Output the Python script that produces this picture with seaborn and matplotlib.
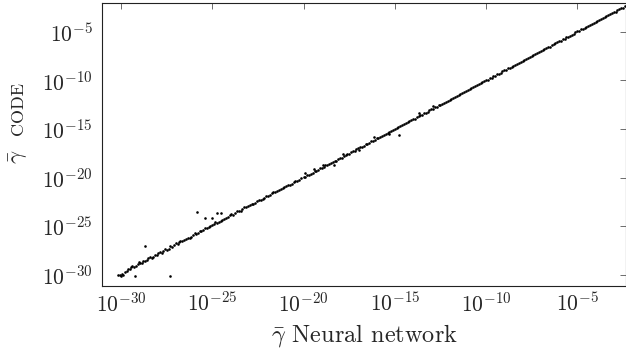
import numpy as np
import matplotlib
matplotlib.use("Agg")
import matplotlib.pyplot as plt
from matplotlib.ticker import NullLocator, LogFormatterSciNotation
import seaborn as sns

# log10 of gamma-bar: neural network (x) vs CODE (y)
nn_log = [
    # bottom-left, sparse part
    -30.15, -30.08, -30.02, -29.95, -29.88, -29.80, -29.60, -29.45, -29.30, -29.10,
    -28.95, -28.80, -28.60, -28.40, -28.25, -28.05, -27.85, -27.70, -27.50, -27.30,
    -27.10, -26.90, -26.75, -26.55, -26.35, -26.15, -25.95, -25.80, -25.60, -25.40,
    -25.20, -25.00, -24.85, -24.65, -24.45, -24.25, -24.05, -23.85, -23.65, -23.45,
    -23.25, -23.05, -22.85, -22.65, -22.45, -22.25, -22.05, -21.85, -21.65, -21.45,
    -21.25, -21.05, -20.85, -20.65, -20.45, -20.25,
    -29.70, -29.52, -29.38, -29.20, -29.02, -28.88, -28.70, -28.50, -28.32, -28.15,
    -27.95, -27.78, -27.60, -27.40, -27.20, -27.00, -26.82, -26.65, -26.45, -26.25,
    -26.05, -25.88, -25.70, -25.50, -25.30, -25.10, -24.92, -24.75, -24.55, -24.35,
    -24.15, -23.95, -23.75, -23.55, -23.35, -23.15, -22.95, -22.75, -22.55, -22.35,
    -22.15, -21.95, -21.75, -21.55, -21.35, -21.15, -20.95, -20.75, -20.55, -20.35,
    -20.15,
    # dense part
    -20.00, -19.90, -19.80, -19.70, -19.60, -19.50, -19.40, -19.30, -19.20, -19.10,
    -19.00, -18.90, -18.80, -18.70, -18.60, -18.50, -18.40, -18.30, -18.20, -18.10,
    -18.00, -17.90, -17.80, -17.70, -17.60, -17.50, -17.40, -17.30, -17.20, -17.10,
    -17.00, -16.90, -16.80, -16.70, -16.60, -16.50, -16.40, -16.30, -16.20, -16.10,
    -16.00, -15.90, -15.80, -15.70, -15.60, -15.50, -15.40, -15.30, -15.20, -15.10,
    -15.00, -14.90, -14.80, -14.70, -14.60, -14.50, -14.40, -14.30, -14.20, -14.10,
    -14.00, -13.90, -13.80, -13.70, -13.60, -13.50, -13.40, -13.30, -13.20, -13.10,
    -13.00, -12.90, -12.80, -12.70, -12.60, -12.50, -12.40, -12.30, -12.20, -12.10,
    -12.00, -11.90, -11.80, -11.70, -11.60, -11.50, -11.40, -11.30, -11.20, -11.10,
    -11.00, -10.90, -10.80, -10.70, -10.60, -10.50, -10.40, -10.30, -10.20, -10.10,
    -10.00, -9.90, -9.80, -9.70, -9.60, -9.50, -9.40, -9.30, -9.20, -9.10,
    -9.00, -8.90, -8.80, -8.70, -8.60, -8.50, -8.40, -8.30, -8.20, -8.10,
    -8.00, -7.90, -7.80, -7.70, -7.60, -7.50, -7.40, -7.30, -7.20, -7.10,
    -7.00, -6.90, -6.80, -6.70, -6.60, -6.50, -6.40, -6.30, -6.20, -6.10,
    -6.00, -5.90, -5.80, -5.70, -5.60, -5.50, -5.40, -5.30, -5.20, -5.10,
    -5.00, -4.90, -4.80, -4.70, -4.60, -4.50, -4.40, -4.30, -4.20, -4.10,
    -4.00, -3.90, -3.80, -3.70, -3.60, -3.50, -3.40, -3.30, -3.20, -3.10,
    -3.00, -2.90, -2.80, -2.70, -2.60, -2.50, -2.40, -2.30,
    # stray points
    -28.68, -27.31, -29.23, -25.40, -25.00, -24.75, -24.50, -25.85,
    -19.45, -18.35, -17.85, -16.95, -16.15, -15.30, -14.79, -13.65, -12.90, -19.90, -18.95,
]
code_log = [
    -30.05, -29.98, -30.10, -29.92, -30.02, -29.70, -29.35, -29.20, -29.15, -28.85,
    -28.80, -28.55, -28.50, -28.20, -28.10, -27.90, -27.60, -27.55, -27.40, -27.05,
    -26.95, -26.80, -26.50, -26.45, -26.15, -26.05, -25.70, -25.65, -25.50, -25.20,
    -25.10, -24.85, -24.60, -24.55, -24.30, -24.15, -23.85, -23.80, -23.45, -23.40,
    -23.05, -22.95, -22.70, -22.55, -22.30, -22.20, -21.90, -21.80, -21.50, -21.40,
    -21.15, -21.00, -20.75, -20.60, -20.35, -20.22,
    -29.55, -29.40, -29.10, -29.05, -28.70, -28.72, -28.60, -28.30, -28.25, -27.95,
    -27.75, -27.70, -27.35, -27.30, -27.10, -26.75, -26.65, -26.55, -26.30, -26.20,
    -25.85, -25.80, -25.50, -25.40, -25.15, -24.95, -24.80, -24.65, -24.40, -24.25,
    -24.05, -23.75, -23.65, -23.45, -23.20, -23.05, -22.80, -22.70, -22.40, -22.30,
    -22.05, -21.85, -21.60, -21.50, -21.25, -21.10, -20.85, -20.70, -20.45, -20.30,
    -20.05,
    -19.97, -19.94, -19.74, -19.72, -19.59, -19.56, -19.36, -19.30, -19.23, -19.05,
    -18.98, -18.95, -18.73, -18.71, -18.57, -18.54, -18.40, -18.25, -18.26, -18.08,
    -17.97, -17.94, -17.76, -17.68, -17.61, -17.55, -17.36, -17.30, -17.22, -17.06,
    -16.98, -16.86, -16.81, -16.72, -16.57, -16.54, -16.41, -16.27, -16.23, -16.08,
    -15.96, -15.93, -15.77, -15.71, -15.58, -15.55, -15.37, -15.31, -15.21, -15.06,
    -14.97, -14.94, -14.75, -14.72, -14.60, -14.53, -14.38, -14.31, -14.22, -14.07,
    -13.96, -13.93, -13.77, -13.71, -13.59, -13.54, -13.37, -13.32, -13.21, -13.08,
    -12.97, -12.93, -12.78, -12.70, -12.58, -12.54, -12.38, -12.31, -12.21, -12.07,
    -11.98, -11.92, -11.77, -11.71, -11.59, -11.53, -11.39, -11.30, -11.22, -11.08,
    -10.97, -10.93, -10.78, -10.70, -10.60, -10.52, -10.38, -10.31, -10.21, -10.07,
    -9.98, -9.92, -9.78, -9.71, -9.59, -9.53, -9.39, -9.31, -9.22, -9.08,
    -8.97, -8.93, -8.77, -8.70, -8.60, -8.52, -8.38, -8.31, -8.21, -8.07,
    -7.98, -7.92, -7.78, -7.71, -7.59, -7.53, -7.39, -7.30, -7.22, -7.08,
    -6.97, -6.93, -6.77, -6.70, -6.60, -6.52, -6.38, -6.31, -6.21, -6.07,
    -5.98, -5.92, -5.78, -5.71, -5.59, -5.53, -5.39, -5.30, -5.22, -5.08,
    -4.97, -4.93, -4.77, -4.70, -4.60, -4.52, -4.38, -4.31, -4.21, -4.07,
    -3.98, -3.92, -3.78, -3.71, -3.59, -3.53, -3.39, -3.30, -3.22, -3.08,
    -2.97, -2.93, -2.77, -2.70, -2.60, -2.52, -2.38, -2.31,
    -27.02, -30.10, -30.10, -24.17, -24.11, -23.66, -23.66, -23.55,
    -19.15, -18.65, -17.55, -17.20, -15.85, -15.55, -15.66, -13.40, -12.65, -19.55, -18.70,
]

tick_exp = [-30, -25, -20, -15, -10, -5]

sns.set_theme(style="white")
plt.rcParams["font.family"] = ["cmr10", "DejaVu Serif"]
plt.rcParams["mathtext.fontset"] = "cm"
plt.rcParams["axes.formatter.use_mathtext"] = True

fs = 15.5

fig = plt.figure(figsize=(6.26, 3.56), dpi=100)
ax = fig.add_axes([0.1634, 0.1966, 0.8366, 0.7958])

sns.scatterplot(x=10.0 ** np.array(nn_log), y=10.0 ** np.array(code_log),
                color="black", s=3.5, linewidth=0, marker="o", ax=ax)

ax.set_xscale("log")
ax.set_yscale("log")
ax.set_xlim(10 ** -31.03, 10 ** -2.33)
ax.set_ylim(10 ** -31.13, 10 ** -2.02)

ticks = [10.0 ** e for e in tick_exp]
ax.set_xticks(ticks)
ax.set_yticks(ticks)
ax.xaxis.set_major_formatter(LogFormatterSciNotation())
ax.yaxis.set_major_formatter(LogFormatterSciNotation())
ax.xaxis.set_minor_locator(NullLocator())
ax.yaxis.set_minor_locator(NullLocator())

ax.tick_params(which="both", direction="in", top=True, right=True,
               length=4.3, width=0.6, color="#555555", labelsize=fs)
ax.tick_params(axis="x", pad=4)
ax.tick_params(axis="y", pad=7)
for sp in ax.spines.values():
    sp.set_color("#222222")
    sp.set_linewidth(0.8)

ax.set_xlabel(r"$\bar{\gamma}$ Neural network", fontsize=17.5, labelpad=5)
ax.set_ylabel("")
ax.text(-0.160, 0.455, r"$\bar{\gamma}$", transform=ax.transAxes, rotation=90,
        ha="center", va="center", fontsize=16.5)
ax.text(-0.160, 0.625, "CODE", transform=ax.transAxes, rotation=90,
        ha="center", va="center", fontsize=13)

fig.savefig("out.png", dpi=100)
